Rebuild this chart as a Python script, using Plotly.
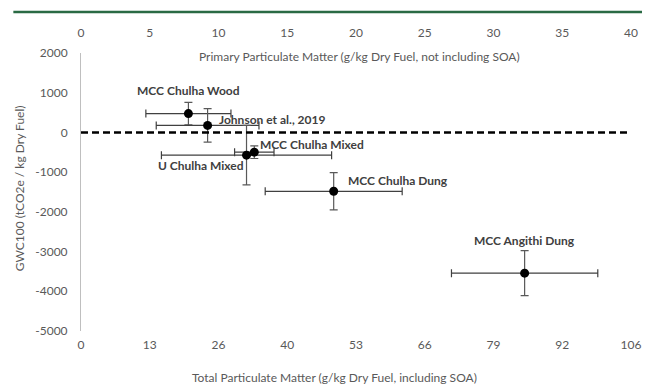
import plotly.graph_objects as go

# ---- data ----
labels = ["MCC Chulha Wood", "Johnson et al., 2019", "U Chulha Mixed",
          "MCC Chulha Mixed", "MCC Chulha Dung", "MCC Angithi Dung"]
total_pm = [20.7, 24.4, 31.9, 33.4, 48.7, 85.5]          # g/kg, bottom axis
total_pm_err = [8.2, 9.9, 16.4, 3.8, 13.2, 14.1]
gwc100 = [475, 177, -573, -497, -1482, -3543]
gwc100_err = [282, 420, 750, 160, 470, 567]

bottom_tickvals = [0, 13.25, 26.5, 39.75, 53, 66.25, 79.5, 92.75, 106]
bottom_ticktext = ["0", "13", "26", "40", "53", "66", "79", "92", "106"]
top_tickvals = [0, 5, 10, 15, 20, 25, 30, 35, 40]
y_tickvals = [2000, 1000, 0, -1000, -2000, -3000, -4000, -5000]
y_ticktext = ["2000", "1000", "0", "-1000", "-2000", "-3000", "-4000", "-5000"]

# label offsets (px) relative to each point: (xshift, yshift, xanchor)
label_pos = [(0, 23, "center"), (9, 6, "left"), (-1, -10, "right"),
             (4, 8, "left"), (12, 11, "left"), (0, 33, "center")]

FONT = "Lato, Carlito, 'Open Sans', sans-serif"
GREY = "#595959"

fig = go.Figure()
fig.add_trace(go.Scatter(
    x=total_pm, y=gwc100, mode="markers",
    marker=dict(color="black", size=9),
    error_x=dict(type="data", array=total_pm_err, color="#404040", thickness=1.2, width=4),
    error_y=dict(type="data", array=gwc100_err, color="#595959", thickness=1.2, width=4),
    showlegend=False, hoverinfo="skip",
))
# invisible trace on top axis
fig.add_trace(go.Scatter(x=[0, 40], y=[None, None], xaxis="x2", mode="markers",
                         showlegend=False, hoverinfo="skip"))

for lab, xv, yv, (dx, dy, xa) in zip(labels, total_pm, gwc100, label_pos):
    fig.add_annotation(x=xv, y=yv, xref="x", yref="y", text="<b>%s</b>" % lab,
                       showarrow=False, xanchor=xa, yanchor="middle",
                       xshift=dx, yshift=dy,
                       font=dict(family=FONT, size=12, color="#404040"))

fig.update_layout(
    width=644, height=377,
    margin=dict(l=73, r=11, t=45, b=54),
    paper_bgcolor="white", plot_bgcolor="white",
    font=dict(family=FONT, size=12, color=GREY),
    xaxis=dict(range=[0, 106], tickvals=bottom_tickvals, ticktext=bottom_ticktext,
               showgrid=False, zeroline=False, showline=False,
               ticks="outside", ticklen=3, tickcolor="rgba(0,0,0,0)",
               tickfont=dict(family=FONT, size=12, color=GREY)),
    xaxis2=dict(range=[0, 40], tickvals=top_tickvals, overlaying="x", side="top",
                showgrid=False, zeroline=False, showline=False,
                ticks="outside", ticklen=10, tickcolor="rgba(0,0,0,0)",
                tickfont=dict(family=FONT, size=12, color=GREY)),
    yaxis=dict(range=[-5000, 2000], tickvals=y_tickvals, ticktext=y_ticktext,
               showgrid=False, zeroline=False,
               showline=True, linecolor="#bfbfbf", linewidth=1,
               ticks="outside", ticklen=10, tickcolor="rgba(0,0,0,0)",
               tickfont=dict(family=FONT, size=12, color=GREY)),
)

# zero reference dashed line
fig.add_shape(type="line", xref="paper", yref="y", x0=0, x1=1, y0=0, y1=0,
              line=dict(color="black", width=2.5, dash="7px,4px"))
# green top rule
fig.add_shape(type="line", xref="paper", yref="paper", x0=-0.123, x1=1.02,
              y0=1.1475, y1=1.1475, line=dict(color="#2a6a44", width=2.5))

# axis titles
fig.add_annotation(text="Primary Particulate Matter (g/kg Dry Fuel, not including SOA)",
                   xref="paper", yref="paper", x=0.507, y=0.989, showarrow=False,
                   xanchor="center", yanchor="middle",
                   font=dict(family=FONT, size=12, color=GREY))
fig.add_annotation(text="Total Particulate Matter (g/kg Dry Fuel, including SOA)",
                   xref="paper", yref="paper", x=0.46, y=-0.169, showarrow=False,
                   xanchor="center", yanchor="middle",
                   font=dict(family=FONT, size=12, color=GREY))
fig.add_annotation(text="GWC100 (tCO2e / kg Dry Fuel)",
                   xref="paper", yref="paper", x=-0.1125, y=0.514, showarrow=False,
                   xanchor="center", yanchor="middle", textangle=-90,
                   font=dict(family=FONT, size=12, color=GREY))

fig.write_html("out.html")
